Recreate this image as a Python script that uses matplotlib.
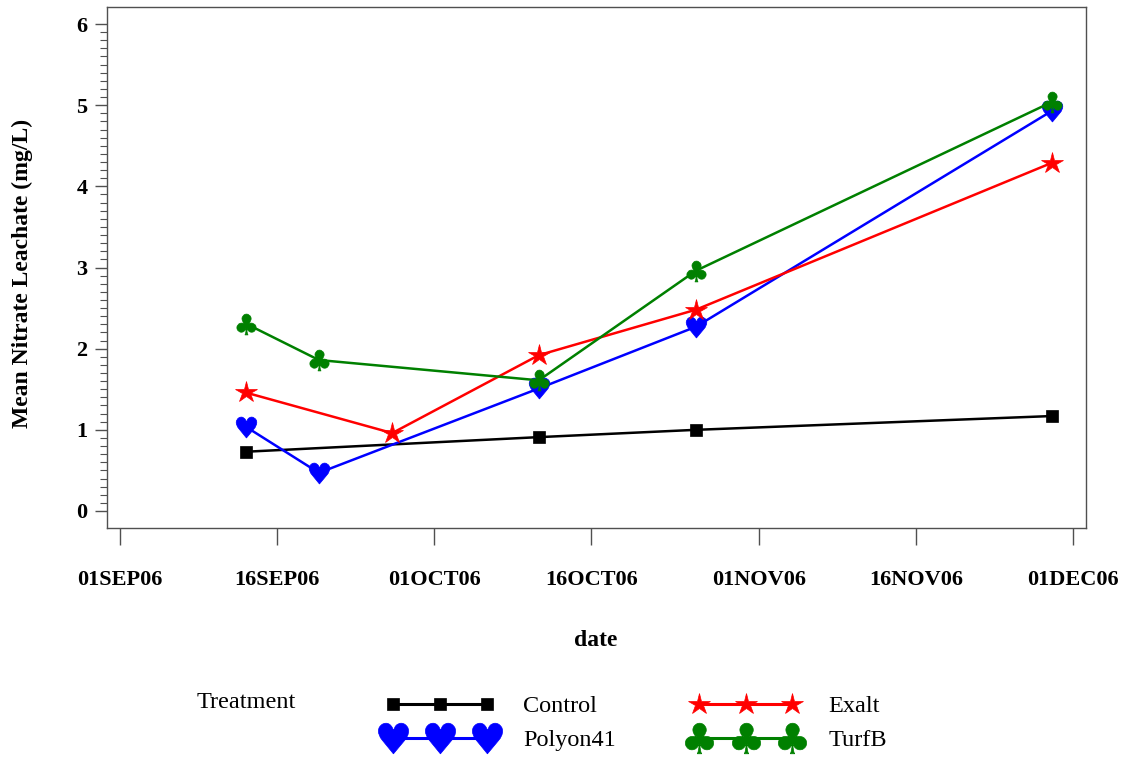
import matplotlib
matplotlib.use("Agg")
import matplotlib.pyplot as plt
import matplotlib.dates as mdates
from matplotlib.lines import Line2D
import numpy as np
import datetime as dt

plt.rcParams['font.family'] = ['Liberation Serif', 'DejaVu Serif']
plt.rcParams['mathtext.fontset'] = 'dejavusans'

# data
treatments = ['Control', 'Polyon41', 'Exalt', 'TurfB']
control_dates = ['2006-09-13', '2006-10-11', '2006-10-26', '2006-11-29']
control_vals = [0.73, 0.91, 1.00, 1.17]
polyon_dates = ['2006-09-13', '2006-09-20', '2006-10-11', '2006-10-26', '2006-11-29']
polyon_vals = [1.04, 0.47, 1.51, 2.27, 4.93]
exalt_dates = ['2006-09-13', '2006-09-27', '2006-10-11', '2006-10-26', '2006-11-29']
exalt_vals = [1.46, 0.96, 1.92, 2.48, 4.29]
turfb_dates = ['2006-09-13', '2006-09-20', '2006-10-11', '2006-10-26', '2006-11-29']
turfb_vals = [2.31, 1.86, 1.61, 2.96, 5.04]
xtick_dates = ['2006-09-01', '2006-09-16', '2006-10-01', '2006-10-16',
               '2006-11-01', '2006-11-16', '2006-12-01']

def d(s):
    return mdates.date2num(dt.datetime.strptime(s, '%Y-%m-%d'))

fig = plt.figure(figsize=(11.32, 7.59), dpi=100)
ax = fig.add_axes([0.0945, 0.3043, 0.8649, 0.6865])

# colour, marker, size in plot, size in legend
styles = [
    ('black', 's', 9, 8),
    ('blue', '$\u2665$', 15, 22),
    ('red', '*', 16, 16),
    ('green', '$\u2663$', 15, 22),
]
series = [(control_dates, control_vals), (polyon_dates, polyon_vals),
          (exalt_dates, exalt_vals), (turfb_dates, turfb_vals)]

handles = []
for name, (ds, vs), (c, m, ms, lms) in zip(treatments, series, styles):
    xs = [d(s) for s in ds]
    ax.plot(xs, vs, color=c, lw=1.8, marker=m, ms=ms, mfc=c, mec=c, mew=0.5)
    handles.append(Line2D([], [], color=c, lw=2.2, marker=m, ms=lms, mfc=c, mec=c, mew=0.5))

sep1 = d('2006-09-01')
ax.set_xlim(sep1 - 1.24, sep1 + 92.26)
ax.set_ylim(-0.21, 6.21)

ax.set_xticks([d(s) for s in xtick_dates])
ax.xaxis.set_major_formatter(plt.FuncFormatter(
    lambda x, p: mdates.num2date(x).strftime('%d%b%y').upper()))
ax.set_yticks(np.arange(0, 7, 1))
ax.set_yticks(np.arange(0, 6.01, 0.1), minor=True)

for sp in ax.spines.values():
    sp.set_color('#505050')
    sp.set_linewidth(1.0)

ax.tick_params(axis='x', direction='out', length=12, width=1.0, color='#505050',
               pad=18, labelsize=16)
ax.tick_params(axis='y', which='major', direction='out', length=9, width=1.0,
               color='#505050', pad=5, labelsize=16)
ax.tick_params(axis='y', which='minor', direction='out', length=5, width=0.8,
               color='#505050')
for lab in ax.get_xticklabels() + ax.get_yticklabels():
    lab.set_fontweight('bold')

fig.text(22 / 1132, 1 - 273 / 759, 'Mean Nitrate Leachate (mg/L)', rotation=90,
         ha='center', va='center', fontsize=17, fontweight='bold')
fig.text(596 / 1132, 1 - 640 / 759, 'date', ha='center', va='center',
         fontsize=17, fontweight='bold')

fig.text(197 / 1132, 1 - 702 / 759, 'Treatment', ha='left', va='center', fontsize=17.5)
fig.legend(handles, treatments, loc='upper left', bbox_to_anchor=(386 / 1132, 1 - 695 / 759),
           ncol=2, frameon=False, fontsize=17.5, numpoints=3, handlelength=4.45,
           handletextpad=1.2, columnspacing=3.1, labelspacing=0.5, borderpad=0,
           borderaxespad=0)

fig.savefig('out.png', dpi=100)
